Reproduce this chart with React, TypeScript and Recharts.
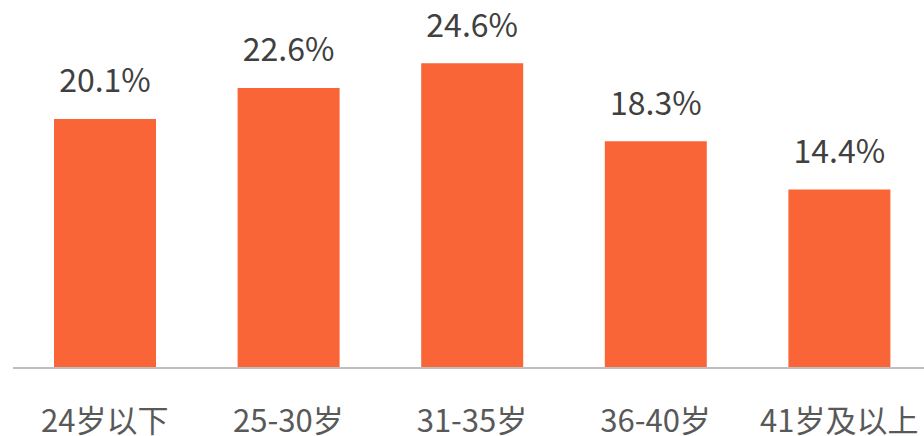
import React from 'react';
import { BarChart, Bar, XAxis, YAxis, LabelList } from 'recharts';

// age groups and their share
const categories = ['24岁以下', '25-30岁', '31-35岁', '36-40岁', '41岁及以上'];
const shares = [20.1, 22.6, 24.6, 18.3, 14.4];

const data = categories.map((name, i) => ({ name, value: shares[i] }));

const FONT = '"Noto Sans CJK SC", "Noto Sans", sans-serif';

const ValueLabel = (props: any) => {
  const { x, y, width, value } = props;
  return (
    <text
      x={x + width / 2}
      y={y - 26.5}
      textAnchor="middle"
      fill="#404040"
      fontSize={32}
      fontFamily={FONT}
    >
      {`${value.toFixed(1)}%`}
    </text>
  );
};

const AgeTick = (props: any) => {
  const { x, y, payload } = props;
  return (
    <text x={x} y={y + 56} textAnchor="middle" fill="#595959" fontSize={31} fontFamily={FONT}>
      {payload.value}
    </text>
  );
};

export default function App() {
  return (
    <div style={{ position: 'absolute', left: 0, top: 0, width: 924, height: 436, overflow: 'hidden', background: '#fff' }}>
      <BarChart
        width={931}
        height={436}
        data={data}
        margin={{ top: 21, right: 0, left: 13, bottom: 0 }}
        barCategoryGap={0}
      >
        <YAxis hide domain={[0, 28]} />
        <XAxis
          dataKey="name"
          height={68}
          axisLine={{ stroke: '#bfbfbf', strokeWidth: 2 }}
          tickLine={false}
          tick={<AgeTick />}
          interval={0}
        />
        <Bar dataKey="value" fill="#F96536" barSize={102} isAnimationActive={false}>
          <LabelList dataKey="value" content={<ValueLabel />} />
        </Bar>
      </BarChart>
    </div>
  );
}
